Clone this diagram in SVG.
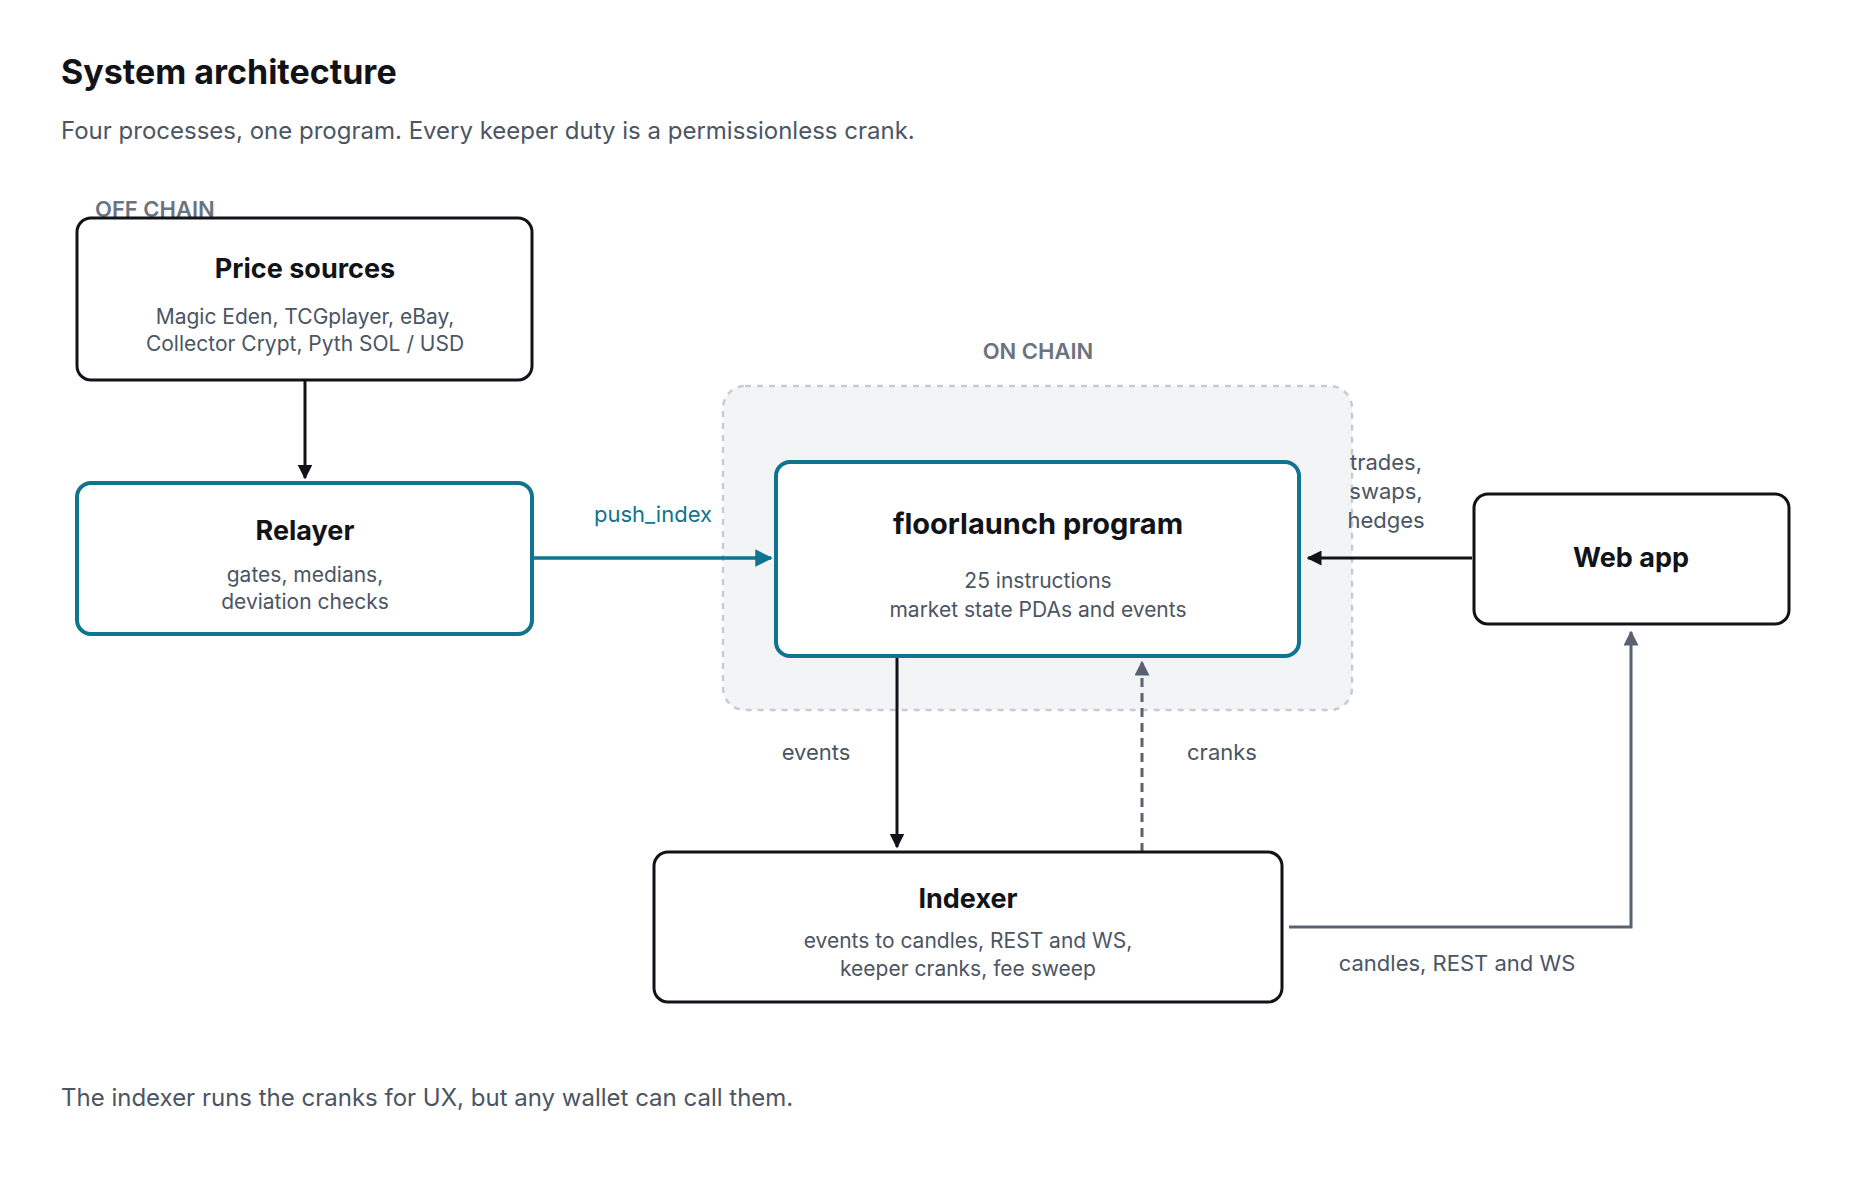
<svg xmlns="http://www.w3.org/2000/svg" width="1856" height="1198" viewBox="0 0 1856 1198">
<defs>
<style>
text{font-family:Inter,"Noto Sans",sans-serif}
.ttl{font-size:27px;font-weight:700;fill:#111318;text-anchor:middle}
.body{font-size:21px;fill:#4b5563;text-anchor:middle}
.lbl{font-size:22px;fill:#4b5563;text-anchor:middle}
.box{fill:#fff;stroke:#111318;stroke-width:3}
.tbox{fill:#fff;stroke:#0e7490;stroke-width:4}
</style>
<marker id="ak" viewBox="0 0 10 10" refX="9" refY="5" markerWidth="5" markerHeight="5" orient="auto"><path d="M0,0L10,5L0,10z" fill="#111318"/></marker>
<marker id="at" viewBox="0 0 10 10" refX="9" refY="5" markerWidth="5" markerHeight="5" orient="auto"><path d="M0,0L10,5L0,10z" fill="#0e7490"/></marker>
<marker id="ag" viewBox="0 0 10 10" refX="9" refY="5" markerWidth="5" markerHeight="5" orient="auto"><path d="M0,0L10,5L0,10z" fill="#5a6270"/></marker>
</defs>
<rect width="1856" height="1198" fill="#fff"/>
<text x="61" y="84" style="font-size:34px;font-weight:700;fill:#111318">System architecture</text>
<text x="61" y="139" style="font-size:24px;fill:#4b5563">Four processes, one program. Every keeper duty is a permissionless crank.</text>
<text x="95" y="217" style="font-size:22px;font-weight:600;fill:#6b7280">OFF CHAIN</text>
<text x="1038" y="359" style="font-size:22px;font-weight:600;fill:#6b7280;text-anchor:middle">ON CHAIN</text>
<rect id="onchain" x="723" y="386" width="629" height="324" rx="22" fill="#f3f4f6" stroke="#c8cbd0" stroke-width="2.5" stroke-dasharray="6 6"/>
<g id="connectors" fill="none">
<path d="M305,380V478" stroke="#111318" stroke-width="3" marker-end="url(#ak)"/>
<path d="M532,558H771" stroke="#0e7490" stroke-width="3.5" marker-end="url(#at)"/>
<path d="M1472,558H1308" stroke="#111318" stroke-width="3" marker-end="url(#ak)"/>
<path d="M897,656V847" stroke="#111318" stroke-width="3" marker-end="url(#ak)"/>
<path d="M1142,852V662" stroke="#5a6270" stroke-width="3" stroke-dasharray="9 6" marker-end="url(#ag)"/>
<path d="M1289,927H1631V632" stroke="#5a6270" stroke-width="3" marker-end="url(#ag)"/>
<text x="653" y="522" style="font-size:22px;fill:#0e7490;text-anchor:middle">push_index</text>
<text class="lbl" x="1386" y="470">trades,</text>
<text class="lbl" x="1386" y="499">swaps,</text>
<text class="lbl" x="1386" y="528">hedges</text>
<text class="lbl" x="816" y="760">events</text>
<text class="lbl" x="1222" y="760">cranks</text>
<text class="lbl" x="1457" y="971">candles, REST and WS</text>
</g>
<g id="price"><rect class="box" x="77" y="218" width="455" height="162" rx="14"/>
<text class="ttl" x="305" y="278">Price sources</text>
<text class="body" x="305" y="324">Magic Eden, TCGplayer, eBay,</text>
<text class="body" x="305" y="351">Collector Crypt, Pyth SOL / USD</text></g>
<g id="relayer"><rect class="tbox" x="77" y="483" width="455" height="151" rx="14"/>
<text class="ttl" x="305" y="540">Relayer</text>
<text class="body" x="305" y="582">gates, medians,</text>
<text class="body" x="305" y="609">deviation checks</text></g>
<g id="program"><rect class="tbox" x="776" y="462" width="523" height="194" rx="14"/>
<text class="ttl" x="1038" y="534" style="font-size:29px">floorlaunch program</text>
<text class="body" x="1038" y="588">25 instructions</text>
<text class="body" x="1038" y="617">market state PDAs and events</text></g>
<g id="webapp"><rect class="box" x="1474" y="494" width="315" height="130" rx="14"/>
<text class="ttl" x="1631" y="567">Web app</text></g>
<g id="indexer"><rect class="box" x="654" y="852" width="628" height="150" rx="14"/>
<text class="ttl" x="968" y="908">Indexer</text>
<text class="body" x="968" y="948">events to candles, REST and WS,</text>
<text class="body" x="968" y="976">keeper cranks, fee sweep</text></g>
<text x="61" y="1106" style="font-size:24px;fill:#4b5563">The indexer runs the cranks for UX, but any wallet can call them.</text>
</svg>
